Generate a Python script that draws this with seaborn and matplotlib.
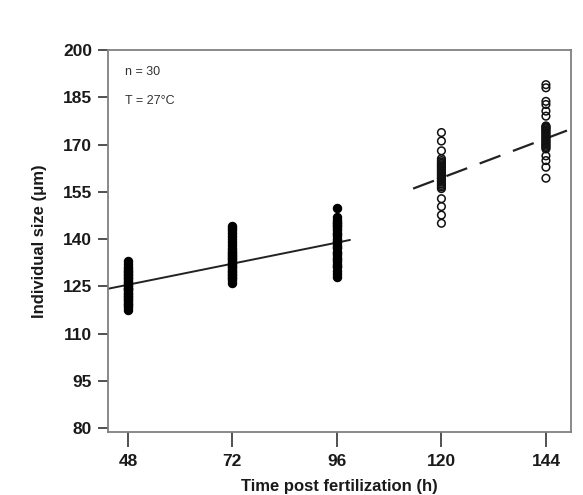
import matplotlib
matplotlib.use("Agg")
import matplotlib.pyplot as plt
import seaborn as sns
import pandas as pd
import numpy as np

# ---- data ----
hours = [48, 72, 96, 120, 144]
size_48 = [117.5, 118.5, 119, 119.5, 120, 120.5, 121, 121.5, 122, 122.5, 123, 123.5, 124, 124,
           124.5, 125, 125.5, 126, 126.5, 127, 127.5, 128, 128.5, 129, 129.5, 130, 130.5, 131, 132, 133]
size_72 = [126, 127, 127.5, 128, 128.5, 129, 129.5, 130, 130.5, 131, 131.5, 132, 132.5, 133, 133.5,
           134, 134.5, 135, 135.5, 136, 136.5, 137, 138, 139, 140, 141, 142, 143, 143.5, 144]
size_96 = [128, 129, 130, 131, 131.5, 132, 133, 133.5, 134, 135, 135.5, 136, 137, 137.5, 138, 139,
           139.5, 140, 141, 141.5, 142, 143, 143.5, 144, 144.5, 145, 145.5, 146, 147, 150]
size_120 = [145, 147.6, 150.3, 152.8, 156.0, 156.5, 157, 157.5, 158, 158.5, 159, 159.3, 159.6, 160,
            160.4, 160.8, 161.2, 161.6, 162, 162.4, 162.8, 163.2, 163.6, 164, 164.4, 164.9, 165.5,
            168, 171.1, 173.8]
size_144 = [159.3, 162.8, 164.9, 166.4, 168.6, 169, 169.4, 169.8, 170.2, 170.6, 171, 171.4, 171.8,
            172.2, 172.6, 173, 173.4, 173.8, 174.2, 174.6, 175, 175.3, 175.6, 175.9, 179.0, 180.6,
            182.7, 183.7, 188.0, 189.0]

# fitted lines (start/end in hours, values)
solid_x = [43.4, 99.0]
solid_y = [124.2, 139.7]
dashed_x = [113.5, 150.5]
dashed_y = [156.0, 175.3]

yticks = [80, 95, 110, 125, 140, 155, 170, 185, 200]
annot = ["n = 30", "T = 27°C"]

filled = pd.DataFrame({
    "time": [48] * len(size_48) + [72] * len(size_72) + [96] * len(size_96),
    "size": size_48 + size_72 + size_96,
})
opened = pd.DataFrame({
    "time": [120] * len(size_120) + [144] * len(size_144),
    "size": size_120 + size_144,
})

sns.set_style("white")
plt.rcParams["font.family"] = ["Liberation Sans", "DejaVu Sans"]

fig = plt.figure(figsize=(5.83, 4.95), dpi=100)
ax = fig.add_axes([0.185, 0.127, 0.794, 0.772])

sns.scatterplot(data=filled, x="time", y="size", ax=ax, color="black", s=36,
                edgecolor="black", linewidth=0.8, zorder=3, legend=False)
sns.scatterplot(data=opened, x="time", y="size", ax=ax, s=30, facecolor="none",
                edgecolor="#111111", linewidth=1.1, zorder=3, legend=False)

sns.lineplot(x=solid_x, y=solid_y, ax=ax, color="#222222", linewidth=1.4, zorder=2)
ln = ax.plot(dashed_x, dashed_y, color="#222222", linewidth=1.6, zorder=2)[0]
ln.set_dashes([10, 6])

ax.set_xlim(43.4, 149.7)
ax.set_ylim(78.7, 200)
ax.set_xticks(hours)
ax.set_yticks(yticks)
ax.set_xticklabels([str(h) for h in hours], fontsize=12.5, fontweight="bold", color="#1a1a1a")
ax.set_yticklabels([str(v) for v in yticks], fontsize=12.5, fontweight="bold", color="#1a1a1a")

for sp in ax.spines.values():
    sp.set_visible(True)
    sp.set_color("#808080")
    sp.set_linewidth(1.3)

ax.tick_params(axis="y", direction="out", length=7.5, width=1.2, color="#333333", pad=4, left=True)
ax.tick_params(axis="x", direction="out", length=11, width=1.2, color="#333333", pad=5, bottom=True)

ax.set_ylabel("Individual size (μm)", fontsize=12, fontweight="bold", labelpad=11, color="#1a1a1a")
ax.set_xlabel("Time post fertilization (h)", fontsize=12, fontweight="bold", labelpad=7, color="#1a1a1a")

ax.text(0.038, 0.943, annot[0], transform=ax.transAxes, fontsize=9, color="#333333", va="center")
ax.text(0.038, 0.866, annot[1], transform=ax.transAxes, fontsize=9, color="#333333", va="center")

fig.savefig("out.png", dpi=100)
